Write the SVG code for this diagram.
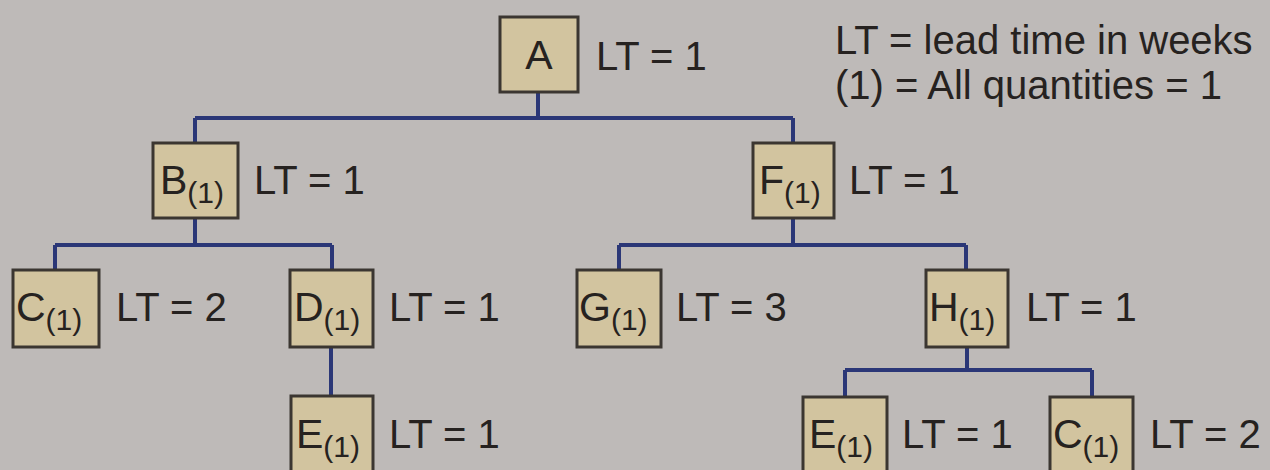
<svg xmlns="http://www.w3.org/2000/svg" width="1270" height="470" viewBox="0 0 1270 470">
<style>
.bg{fill:#bebab8}
.box{fill:#d2c49f;stroke:#3b3631;stroke-width:3}
.ln{fill:none;stroke:#2b3777;stroke-width:4}
text{font-family:"Liberation Sans",Arial,sans-serif;fill:#262220}
.lt{font-size:40px}
.nm{font-size:41px}
.sb{font-size:30px}
.lg{font-size:40px}
</style>
<rect class="bg" x="0" y="0" width="1270" height="470"/>
<g id="connectors">
<path class="ln" d="M538 92 V118 M195 118 H793 M195 118 V143 M793 118 V143"/>
<path class="ln" d="M195 218 V245 M55 245 H332 M55 245 V270 M332 245 V270"/>
<path class="ln" d="M793 218 V245 M619 245 H966 M619 245 V270 M966 245 V270"/>
<path class="ln" d="M331 347 V396"/>
<path class="ln" d="M967 347 V370 M845 370 H1092 M845 370 V397 M1092 370 V397"/>
</g>
<g id="node-A">
<rect class="box" x="500" y="17" width="78" height="75"/>
<text class="nm" x="539" y="69" text-anchor="middle">A</text>
<text class="lt" x="596" y="70">LT = 1</text>
</g>
<g id="node-B">
<rect class="box" x="153" y="143" width="85" height="75"/>
<text x="160" y="194"><tspan class="nm">B</tspan><tspan class="sb" dy="9">(1)</tspan></text>
<text class="lt" x="254" y="194">LT = 1</text>
</g>
<g id="node-F">
<rect class="box" x="753" y="143" width="81" height="75"/>
<text x="759" y="194"><tspan class="nm">F</tspan><tspan class="sb" dy="9">(1)</tspan></text>
<text class="lt" x="849" y="194">LT = 1</text>
</g>
<g id="node-C1">
<rect class="box" x="13" y="270" width="86" height="77"/>
<text x="16" y="321"><tspan class="nm">C</tspan><tspan class="sb" dy="9">(1)</tspan></text>
<text class="lt" x="116" y="321">LT = 2</text>
</g>
<g id="node-D">
<rect class="box" x="290" y="270" width="83" height="77"/>
<text x="294" y="321"><tspan class="nm">D</tspan><tspan class="sb" dy="9">(1)</tspan></text>
<text class="lt" x="389" y="321">LT = 1</text>
</g>
<g id="node-G">
<rect class="box" x="577" y="270" width="84" height="77"/>
<text x="579" y="321"><tspan class="nm">G</tspan><tspan class="sb" dy="9">(1)</tspan></text>
<text class="lt" x="676" y="321">LT = 3</text>
</g>
<g id="node-H">
<rect class="box" x="926" y="270" width="82" height="77"/>
<text x="929" y="321"><tspan class="nm">H</tspan><tspan class="sb" dy="9">(1)</tspan></text>
<text class="lt" x="1026" y="321">LT = 1</text>
</g>
<g id="node-E1">
<rect class="box" x="291" y="396" width="82" height="78"/>
<text x="296" y="448"><tspan class="nm">E</tspan><tspan class="sb" dy="9">(1)</tspan></text>
<text class="lt" x="389" y="448">LT = 1</text>
</g>
<g id="node-E2">
<rect class="box" x="803" y="397" width="84" height="78"/>
<text x="809" y="448"><tspan class="nm">E</tspan><tspan class="sb" dy="9">(1)</tspan></text>
<text class="lt" x="902" y="448">LT = 1</text>
</g>
<g id="node-C2">
<rect class="box" x="1050" y="397" width="83" height="78"/>
<text x="1053" y="448"><tspan class="nm">C</tspan><tspan class="sb" dy="9">(1)</tspan></text>
<text class="lt" x="1150" y="448">LT = 2</text>
</g>
<g id="legend">
<text class="lg" x="835" y="54">LT = lead time in weeks</text>
<text class="lg" x="835" y="99">(1) = All quantities = 1</text>
</g>
</svg>
